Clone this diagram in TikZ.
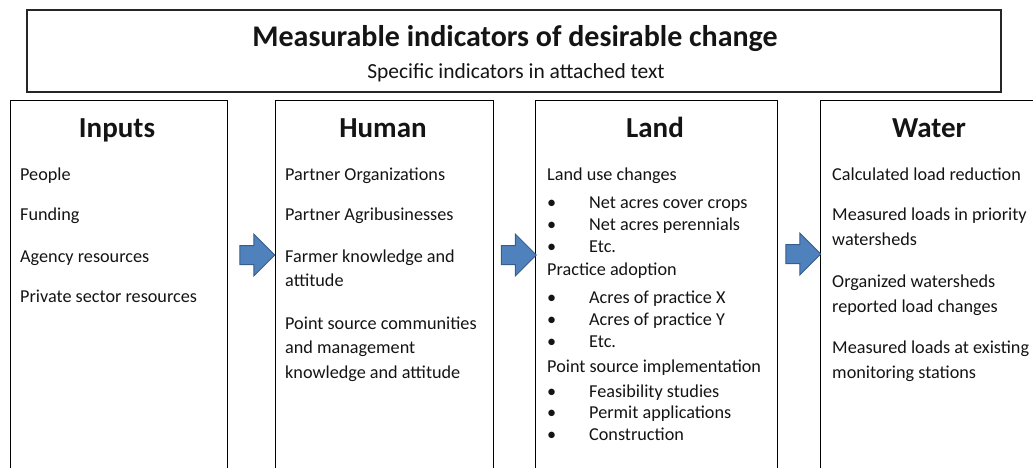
\documentclass[tikz,border=0pt]{standalone}
\usepackage{fontspec}
\setmainfont{Carlito}
\usetikzlibrary{shapes.arrows}
\definecolor{arrowfill}{HTML}{4F81BD}
\definecolor{arrowline}{HTML}{385D8A}
\definecolor{ink}{HTML}{141414}
\begin{document}
\begin{tikzpicture}[x=1pt,y=-1pt,
  panel/.style={draw=black, line width=1.3pt, inner sep=0pt, anchor=north west},
  heading/.style={font=\fontsize{29}{31}\selectfont\bfseries, anchor=base, inner sep=0pt, text=ink},
  item/.style={font=\fontsize{18.2}{24}\selectfont, anchor=base west, inner sep=0pt, text=ink},
  flow/.style={single arrow, draw=arrowline, fill=arrowfill, line width=1pt,
    minimum height=35pt, single arrow head extend=11.5pt,
    single arrow head indent=0pt, inner xsep=0pt, inner ysep=9pt}
]
\useasboundingbox (0,0) rectangle (1033,467);
\clip (0,0) rectangle (1033,467);

% banner across the top
\node[draw=black!85, line width=1.6pt, minimum width=974pt, minimum height=82pt, inner sep=0pt] (banner) at (514,51) {};
\node[font=\fontsize{30}{32}\selectfont\bfseries, anchor=base, inner sep=0pt, text=ink] (title) at (515,46) {Measurable indicators of desirable change};
\node[font=\fontsize{21.5}{24}\selectfont, anchor=base, inner sep=0pt, text=ink] (subtitle) at (516,78) {Specific indicators in attached text};

% four stage panels
\node[panel, minimum width=217pt, minimum height=420pt] (inputs) at (10,100) {};
\node[panel, minimum width=218pt, minimum height=420pt] (human) at (275,100) {};
\node[panel, minimum width=242pt, minimum height=420pt] (land) at (535,100) {};
\node[panel, minimum width=300pt, minimum height=420pt] (water) at (820,100) {};

% arrows between the panels
\node[flow] (a1) at (252.5,255) {};
\node[flow] (a2) at (514,255) {};
\node[flow] (a3) at (798.5,254) {};

% Inputs
\node[heading] (hInputs) at (117,137) {Inputs};
\node[item] (i1) at (20,180) {People};
\node[item] (i2) at (20,220) {Funding};
\node[item] (i3) at (20,262) {Agency resources};
\node[item] (i4) at (20,302) {Private sector resources};

% Human
\node[heading] (hHuman) at (383,137) {Human};
\node[item] (h1) at (285,180) {Partner Organizations};
\node[item] (h2) at (285,220) {Partner Agribusinesses};
\node[item] (h3a) at (285,262) {Farmer knowledge and};
\node[item] (h3b) at (285,286) {attitude};
\node[item] (h4a) at (285,329) {Point source communities};
\node[item] (h4b) at (285,353) {and management};
\node[item] (h4c) at (285,378) {knowledge and attitude};

% Land
\node[heading] (hLand) at (655,137) {Land};
\node[item] (l1) at (547,180) {Land use changes};
\node[item] (b1) at (547,208) {•};
\node[item] (l2) at (589,208) {Net acres cover crops};
\node[item] (b2) at (547,230) {•};
\node[item] (l3) at (589,230) {Net acres perennials};
\node[item] (b3) at (547,252) {•};
\node[item] (l4) at (589,252) {Etc.};
\node[item] (l5) at (547,275) {Practice adoption};
\node[item] (b4) at (547,303) {•};
\node[item] (l6) at (589,303) {Acres of practice X};
\node[item] (b5) at (547,325) {•};
\node[item] (l7) at (589,325) {Acres of practice Y};
\node[item] (b6) at (547,347) {•};
\node[item] (l8) at (589,347) {Etc.};
\node[item] (l9) at (547,372) {Point source implementation};
\node[item] (b7) at (547,397) {•};
\node[item] (l10) at (589,397) {Feasibility studies};
\node[item] (b8) at (547,418) {•};
\node[item] (l11) at (589,418) {Permit applications};
\node[item] (b9) at (547,440) {•};
\node[item] (l12) at (589,440) {Construction};

% Water
\node[heading] (hWater) at (929,137) {Water};
\node[item] (w1) at (832,180) {Calculated load reduction};
\node[item] (w2a) at (832,220) {Measured loads in priority};
\node[item] (w2b) at (832,245) {watersheds};
\node[item] (w3a) at (832,287) {Organized watersheds};
\node[item] (w3b) at (832,312) {reported load changes};
\node[item] (w4a) at (832,353) {Measured loads at existing};
\node[item] (w4b) at (832,378) {monitoring stations};
\end{tikzpicture}
\end{document}
